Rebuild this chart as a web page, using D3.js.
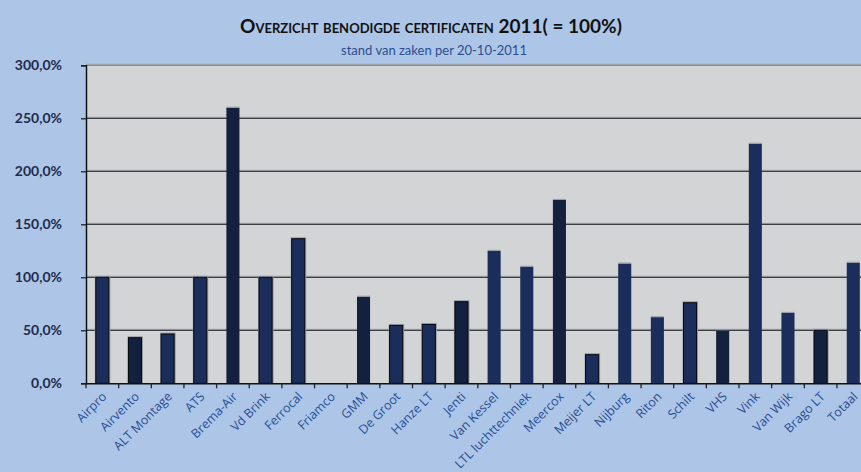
<!DOCTYPE html>
<html>
<head>
<meta charset="utf-8">
<script src="https://cdn.jsdelivr.net/npm/d3@7"></script>
<style>
  body { margin: 0; background: #adc6e8; }
  svg { display: block; }
</style>
</head>
<body>
<div id="chart"></div>
<script>
// data
var categories = ["Airpro", "Airvento", "ALT Montage", "ATS", "Brema-Air", "Vd Brink",
    "Ferrocal", "Friamco", "GMM", "De Groot", "Hanze LT", "Jenti", "Van Kessel",
    "LTL luchttechniek", "Meercox", "Meijer LT", "Nijburg", "Riton", "Schilt", "VHS",
    "Vink", "Van Wijk", "Brago LT", "Totaal"];
var values = [100, 43, 46.5, 100, 260, 100, 136.4, 0, 81.7, 54.6, 55.5, 77, 125,
    110, 173, 27, 113, 62.4, 76, 50, 226, 66.4, 50, 113.8];
var yTicks = [0, 50, 100, 150, 200, 250, 300];

// styling per bar (dark / outlined), kept apart from the values
var darkBars = ["Airvento", "Brema-Air", "GMM", "Jenti", "Meercox", "VHS", "Brago LT"];
var outlined = ["Airpro", "Airvento", "ALT Montage", "ATS", "Vd Brink", "Ferrocal",
    "De Groot", "Hanze LT", "Jenti", "Meijer LT", "Schilt", "Brago LT"];

function val(d) { return values[categories.indexOf(d)]; }

var W = 861, H = 472;
var margin = {top: 65.3, left: 86};
var plotH = 318, step = 32.65;
var plotW = step * categories.length;

var svg = d3.select("#chart").append("svg")
    .attr("width", W).attr("height", H);

svg.append("rect").attr("width", W).attr("height", H).attr("fill", "#adc6e8");

var x = d3.scaleBand().domain(categories)
    .range([margin.left, margin.left + plotW])
    .paddingInner(0.6).paddingOuter(0.3);
var y = d3.scaleLinear().domain([0, 300]).range([margin.top + plotH, margin.top]);

// plot area
svg.append("rect")
    .attr("x", margin.left).attr("y", margin.top)
    .attr("width", plotW).attr("height", plotH)
    .attr("fill", "#d3d4d6");

// gridlines
var grid = svg.append("g");
grid.selectAll("line.shadow").data(yTicks.slice(1))
  .enter().append("line")
    .attr("x1", margin.left).attr("x2", margin.left + plotW)
    .attr("y1", function(d) { return y(d) - 1; }).attr("y2", function(d) { return y(d) - 1; })
    .attr("stroke", "#a3a5a8").attr("stroke-width", 1);
grid.selectAll("line.main").data(yTicks.slice(1))
  .enter().append("line")
    .attr("x1", margin.left).attr("x2", margin.left + plotW)
    .attr("y1", function(d) { return y(d); }).attr("y2", function(d) { return y(d); })
    .attr("stroke", function(d) { return d == 300 ? "#8a8c90" : "#3c3f44"; })
    .attr("stroke-width", 1.3);

// bars
var bars = svg.append("g").selectAll("g").data(categories).enter().append("g");
bars.filter(function(d) { return outlined.indexOf(d) >= 0; })
  .append("rect")
    .attr("x", function(d) { return x(d) - 1; })
    .attr("y", function(d) { return y(val(d)) - 1.5; })
    .attr("width", x.bandwidth() + 2.5)
    .attr("height", function(d) { return y(0) - y(val(d)) + 1.5; })
    .attr("fill", "#9a9ca0");
bars.append("rect")
    .attr("x", function(d) { return x(d); })
    .attr("y", function(d) { return y(val(d)); })
    .attr("width", x.bandwidth())
    .attr("height", function(d) { return y(0) - y(val(d)); })
    .attr("fill", function(d) { return darkBars.indexOf(d) >= 0 ? "#13213f" : "#1b2d5a"; })
    .attr("stroke", function(d) { return outlined.indexOf(d) >= 0 ? "#05080f" : "none"; })
    .attr("stroke-width", 1);
// light top edge on bars without outline
bars.filter(function(d) { return val(d) > 0 && outlined.indexOf(d) < 0; })
  .append("line")
    .attr("x1", function(d) { return x(d); })
    .attr("x2", function(d) { return x(d) + x.bandwidth(); })
    .attr("y1", function(d) { return y(val(d)) - 0.5; })
    .attr("y2", function(d) { return y(val(d)) - 0.5; })
    .attr("stroke", "#9a9ca0").attr("stroke-width", 1);

// y axis
var yAxis = svg.append("g")
    .attr("transform", "translate(" + margin.left + ",0)")
    .call(d3.axisLeft(y).tickValues(yTicks).tickSize(5).tickPadding(19)
          .tickFormat(function(d) { return d3.format(".1f")(d).replace(".", ",") + "%"; }));
yAxis.select(".domain").attr("stroke", "#111").attr("stroke-width", 1.5);
yAxis.selectAll(".tick line").attr("stroke", "#222").attr("stroke-width", 1.3);
yAxis.selectAll("text")
    .attr("fill", "#1f2b4a")
    .attr("font-family", "Lato, 'Open Sans', sans-serif")
    .attr("font-weight", "bold")
    .attr("font-size", "14px");

// x axis
var xAxis = svg.append("g")
    .attr("transform", "translate(0," + y(0) + ")")
    .call(d3.axisBottom(x).tickSize(0).tickFormat(""));
xAxis.select(".domain").attr("stroke", "#111").attr("stroke-width", 1.5);
xAxis.selectAll("line.sep").data(d3.range(categories.length + 1))
  .enter().append("line")
    .attr("class", "sep")
    .attr("x1", function(i) { return margin.left + i * step; })
    .attr("x2", function(i) { return margin.left + i * step; })
    .attr("y1", 0).attr("y2", 5)
    .attr("stroke", "#222").attr("stroke-width", 1.3);

svg.append("g").selectAll("text").data(categories).enter().append("text")
    .attr("transform", function(d) {
        return "translate(" + (x(d) + x.bandwidth() / 2 + 2) + "," + (y(0) + 11) + ") rotate(-45)";
    })
    .attr("text-anchor", "end")
    .attr("dy", "0.35em")
    .attr("fill", "#2a4e93")
    .attr("font-family", "'Open Sans', sans-serif")
    .attr("font-size", "12.5px")
    .text(function(d) { return d; });

// titles
svg.append("text")
    .attr("x", 431).attr("y", 33)
    .attr("text-anchor", "middle")
    .attr("font-family", "Lato, 'Open Sans', sans-serif")
    .attr("font-weight", "bold")
    .attr("font-size", "19px")
    .style("font-variant", "small-caps")
    .attr("fill", "#111")
    .text("Overzicht benodigde certificaten 2011( = 100%)");

svg.append("text")
    .attr("x", 434).attr("y", 55)
    .attr("text-anchor", "middle")
    .attr("font-family", "Lato, 'Open Sans', sans-serif")
    .attr("font-size", "13px")
    .attr("fill", "#2c4e8e")
    .text("stand van zaken per 20-10-2011");
</script>
</body>
</html>
